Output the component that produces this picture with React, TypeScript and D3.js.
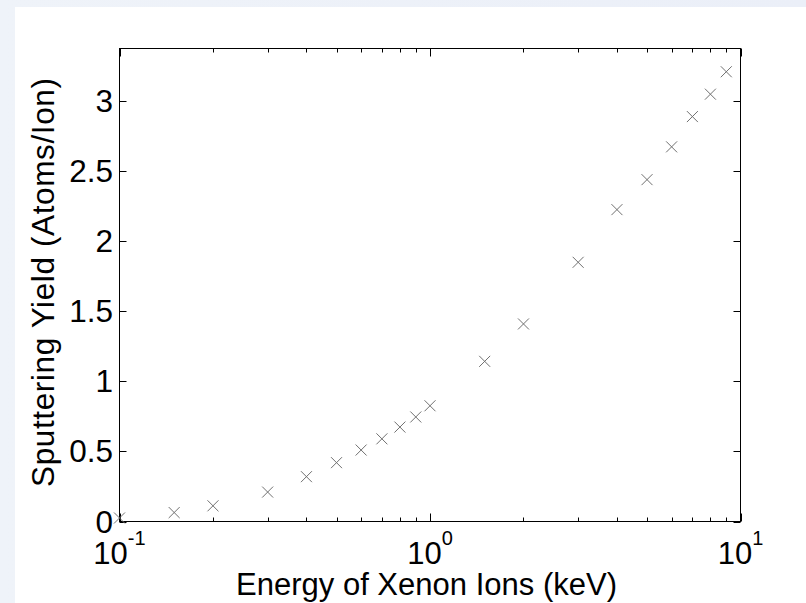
import React from "react";
import * as d3 from "d3";

const energies = [0.1, 0.15, 0.2, 0.3, 0.4, 0.5, 0.6, 0.7, 0.8, 0.9, 1.0, 1.5, 2, 3, 4, 5, 6, 7, 8, 9];
const yields = [0.025, 0.064, 0.112, 0.21, 0.32, 0.42, 0.51, 0.59, 0.674, 0.746, 0.826, 1.143, 1.41, 1.85, 2.226, 2.44, 2.674, 2.89, 3.05, 3.21];
const yTicks = [0, 0.5, 1, 1.5, 2, 2.5, 3];
const yTickLabels = ["0", "0.5", "1", "1.5", "2", "2.5", "3"];
const xMajor = [0.1, 1, 10];
const xMajorExp = ["-1", "0", "1"];
const xMinor = [0.2, 0.3, 0.4, 0.5, 0.6, 0.7, 0.8, 0.9, 2, 3, 4, 5, 6, 7, 8, 9];
const xLabel = "Energy of Xenon Ions (keV)";
const yLabel = "Sputtering Yield (Atoms/Ion)";

const W = 806, H = 603;
const L = 119.5, R = 740.5, T = 48.5, B = 521.5;

export default function App() {
  const x = d3.scaleLog().domain([0.1, 10]).range([L, R]);
  const y = d3.scaleLinear().domain([0, 3.376]).range([B, T]);
  const font = "'Liberation Sans', Arial, Helvetica, sans-serif";
  const ms = 5.5;
  return (
    <div style={{ position: "fixed", left: 0, top: 0, width: W, height: H }}>
      <svg width={W} height={H} style={{ display: "block" }}>
        <defs>
          <linearGradient id="bg" x1="0" x2="1" y1="0" y2="0">
            <stop offset="0" stopColor="#eff3f9" />
            <stop offset="1" stopColor="#ebeff8" />
          </linearGradient>
        </defs>
        <rect x={0} y={0} width={W} height={H} fill="url(#bg)" />
        <rect x={15} y={7} width={W - 15} height={H - 7} fill="#ffffff" />
        <rect x={L} y={T} width={R - L} height={B - T} fill="none" stroke="#000" strokeWidth={1} />
        {yTicks.map((v, i) => {
          const yy = Math.round(y(v)) + 0.5;
          return (
            <g key={"yt" + i}>
              <line x1={L} x2={L + 7} y1={yy} y2={yy} stroke="#000" strokeWidth={1} />
              <line x1={R} x2={R - 7} y1={yy} y2={yy} stroke="#000" strokeWidth={1} />
              <text x={113} y={y(v)} textAnchor="end" dominantBaseline="central" fontFamily={font} fontSize={31.5} fill="#000">
                {yTickLabels[i]}
              </text>
            </g>
          );
        })}
        {xMinor.map((v, i) => {
          const xx = Math.round(x(v)) + 0.5;
          return (
            <g key={"xm" + i}>
              <line x1={xx} x2={xx} y1={B} y2={B - 4} stroke="#000" strokeWidth={1} />
              <line x1={xx} x2={xx} y1={T} y2={T + 4} stroke="#000" strokeWidth={1} />
            </g>
          );
        })}
        {xMajor.map((v, i) => {
          const xx = Math.round(x(v)) + 0.5;
          return (
            <g key={"xM" + i}>
              <line x1={xx} x2={xx} y1={B} y2={B - 8} stroke="#000" strokeWidth={1} />
              <line x1={xx} x2={xx} y1={T} y2={T + 8} stroke="#000" strokeWidth={1} />
              <text x={x(v)} y={564} textAnchor="middle" fontFamily={font} fontSize={31} fill="#000">
                10
                <tspan dy={-19} fontSize={20}>{xMajorExp[i]}</tspan>
              </text>
            </g>
          );
        })}
        {energies.map((e, i) => {
          const cx = x(e), cy = y(yields[i]);
          return (
            <path
              key={"m" + i}
              d={`M${cx - ms},${cy - ms}L${cx + ms},${cy + ms}M${cx - ms},${cy + ms}L${cx + ms},${cy - ms}`}
              stroke="#707070"
              strokeWidth={1}
              fill="none"
            />
          );
        })}
        <text x={426.5} y={595} textAnchor="middle" fontFamily={font} fontSize={31} textLength={381} fill="#000">
          {xLabel}
        </text>
        <text
          transform={`translate(54,282.5) rotate(-90)`}
          textAnchor="middle"
          fontFamily={font}
          fontSize={31.5}
          textLength={409}
          fill="#000"
        >
          {yLabel}
        </text>
      </svg>
    </div>
  );
}
